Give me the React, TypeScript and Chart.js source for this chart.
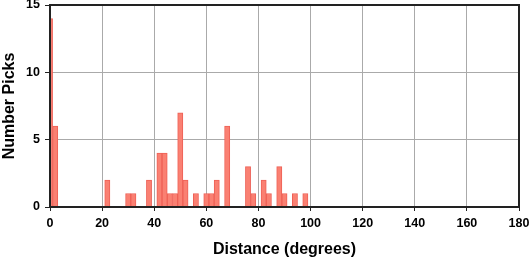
import React, { useEffect, useRef } from "react";
import { Chart, registerables } from "chart.js";

Chart.register(...registerables);

const binCenters = [0, 2, 22, 30, 32, 38, 42, 44, 46, 48, 50, 52, 56, 60, 62, 64, 68, 76, 78, 82, 84, 88, 90, 94, 98];
const pickCounts = [14, 6, 2, 1, 1, 2, 4, 4, 1, 1, 7, 2, 1, 1, 1, 2, 6, 3, 1, 2, 1, 3, 1, 1, 1];
const xTickValues = [0, 20, 40, 60, 80, 100, 120, 140, 160, 180];
const yTickValues = [0, 5, 10, 15];
const xTitle = "Distance (degrees)";
const yTitle = "Number Picks";

const FONT = "'Liberation Sans', Arial, Helvetica, sans-serif";

const framePlugin = {
  id: "frame",
  afterDatasetsDraw(chart: any) {
    const { ctx, chartArea } = chart;
    ctx.save();
    ctx.strokeStyle = "#222";
    ctx.lineWidth = 2;
    ctx.strokeRect(chartArea.left, chartArea.top, chartArea.right - chartArea.left, chartArea.bottom - chartArea.top);
    ctx.restore();
  },
};

export default function App() {
  const ref = useRef<HTMLCanvasElement>(null);
  useEffect(() => {
    document.body.style.margin = "0";
    const data = binCenters.map((x, i) => ({ x, y: pickCounts[i] }));
    const chart = new Chart(ref.current as HTMLCanvasElement, {
      type: "bar",
      data: {
        datasets: [
          {
            data: data as any,
            backgroundColor: "rgb(250,128,114)",
            borderColor: "rgb(238,96,86)",
            borderWidth: 1,
            barPercentage: 1,
            categoryPercentage: 1,
            clip: 0,
          } as any,
        ],
      },
      options: {
        animation: false,
        responsive: false,
        maintainAspectRatio: false,
        layout: { padding: { top: 5, right: 11, left: 0, bottom: 0 } },
        plugins: { legend: { display: false }, tooltip: { enabled: false } },
        scales: {
          x: {
            type: "linear",
            min: 0,
            max: 180,
            offset: false,
            afterBuildTicks: (s: any) => {
              s.ticks = xTickValues.map((v) => ({ value: v }));
            },
            afterFit: (s: any) => {
              s.height = 51;
              s.paddingLeft = 0;
              s.paddingRight = 0;
            },
            grid: { offset: false, color: "#aaa", tickColor: "#222", tickLength: 4, lineWidth: 1 },
            border: { color: "#222", width: 2 },
            ticks: {
              autoSkip: false,
              padding: 5,
              color: "#000",
              maxRotation: 0,
              font: { family: FONT, size: 12.5, weight: "bold" },
            },
            title: {
              display: true,
              text: xTitle,
              color: "#000",
              padding: { top: 0, bottom: 0 },
              font: { family: FONT, size: 16, weight: "bold", lineHeight: 1 },
            },
          },
          y: {
            min: 0,
            max: 15,
            afterBuildTicks: (s: any) => {
              s.ticks = yTickValues.map((v) => ({ value: v }));
            },
            afterFit: (s: any) => {
              s.width = 50;
              s.paddingTop = 0;
              s.paddingBottom = 0;
            },
            grid: { offset: false, color: "#aaa", tickColor: "#222", tickLength: 5, lineWidth: 1 },
            border: { color: "#222", width: 2 },
            ticks: {
              autoSkip: false,
              padding: 5,
              color: "#000",
              font: { family: FONT, size: 12.5, weight: "bold" },
            },
            title: {
              display: true,
              text: yTitle,
              color: "#000",
              padding: { top: 0, bottom: 0 },
              font: { family: FONT, size: 16, weight: "bold", lineHeight: 1.2 },
            },
          },
        },
      },
      plugins: [framePlugin],
    });
    return () => chart.destroy();
  }, []);
  return (
    <div style={{ width: 530, height: 258, position: "relative" }}>
      <canvas ref={ref} width={530} height={258} style={{ display: "block" }} />
    </div>
  );
}
